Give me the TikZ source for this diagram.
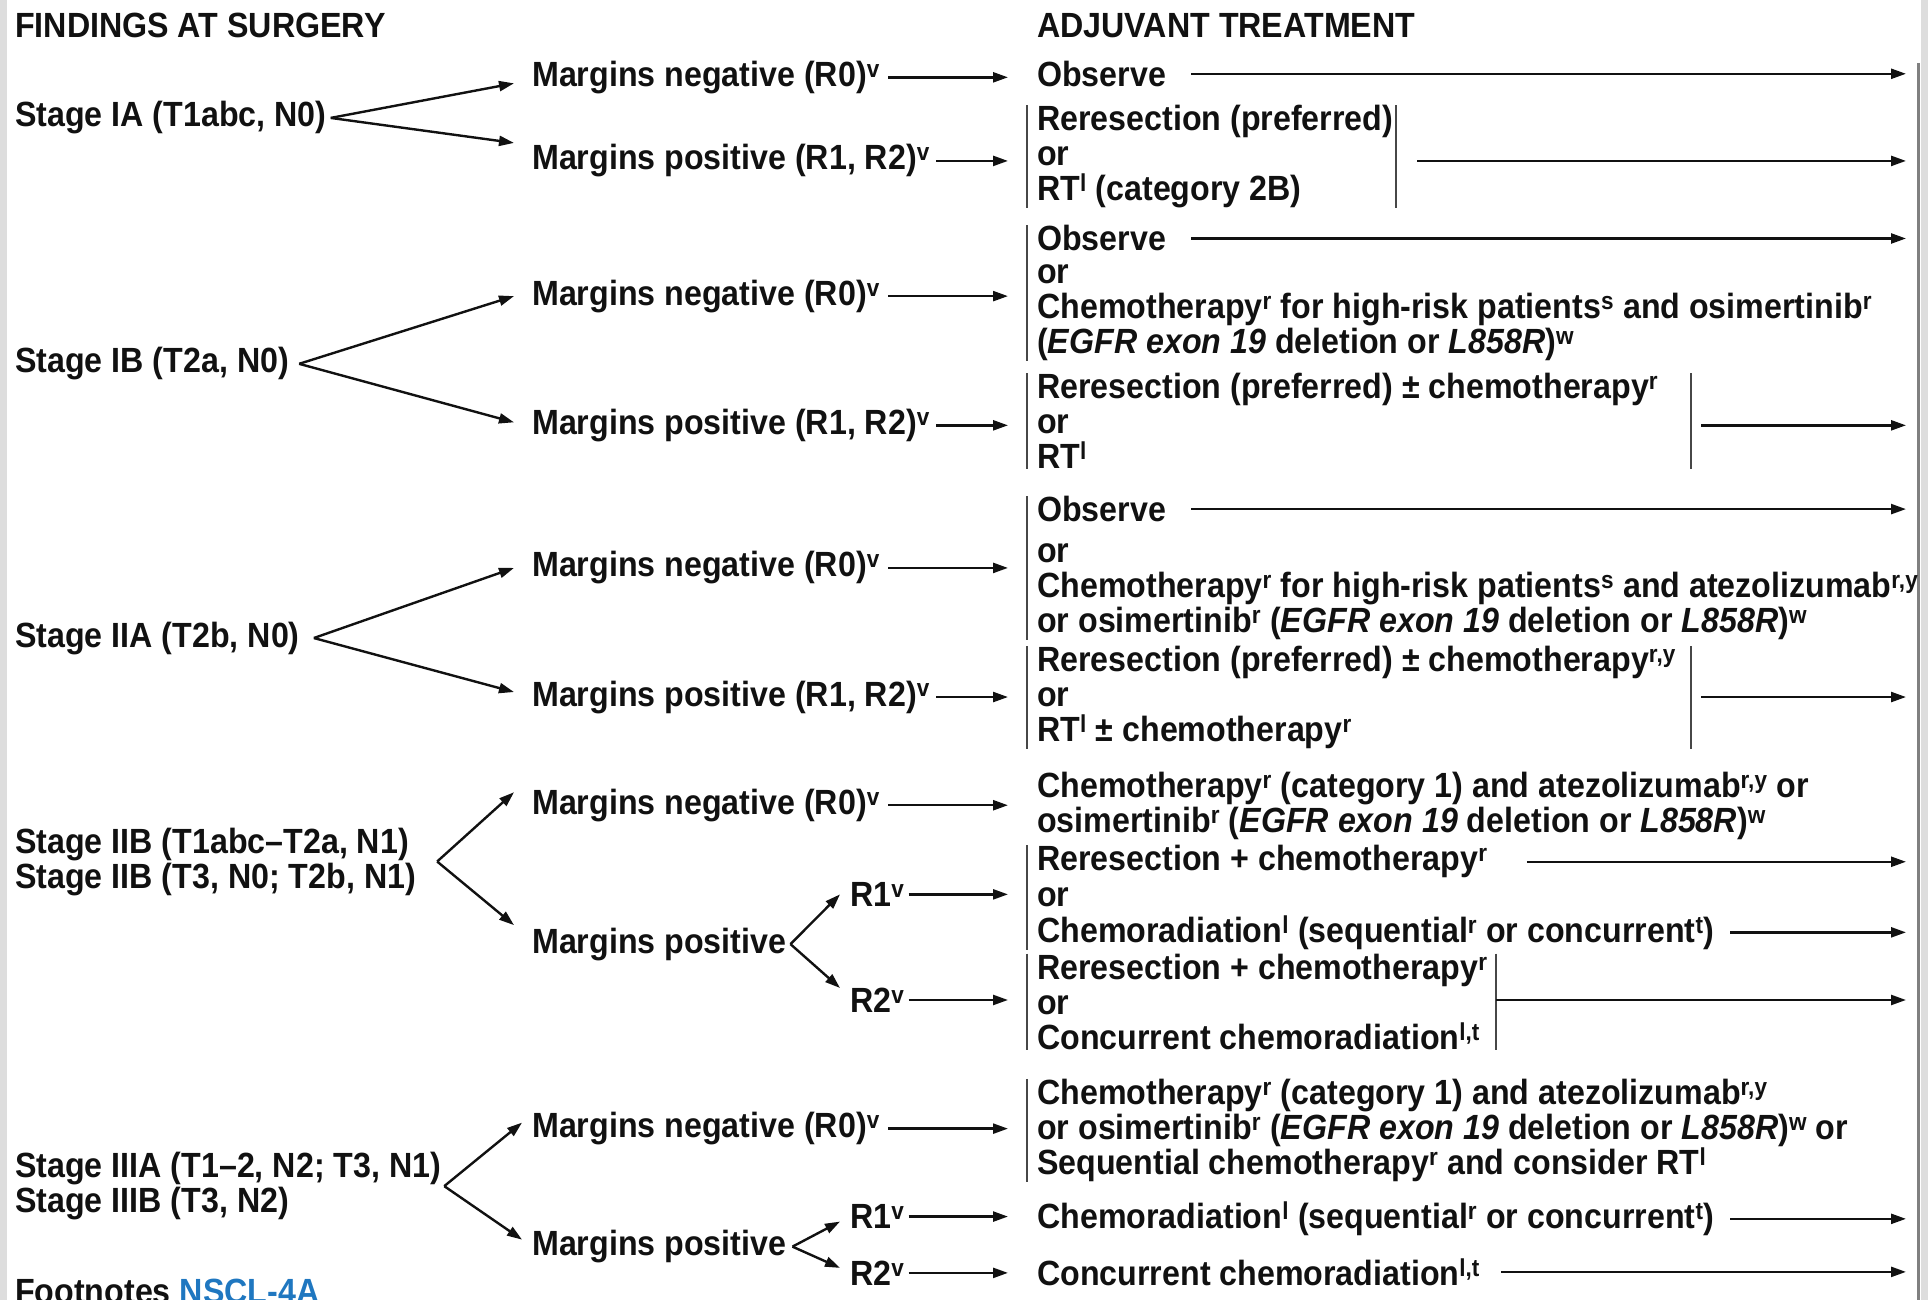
\documentclass[tikz,border=0pt]{standalone}
\usepackage{fontspec}
\setmainfont{Liberation Sans}[FakeStretch=0.92]
\usetikzlibrary{arrows.meta}
\definecolor{ink}{HTML}{111111}
\definecolor{barc}{HTML}{474747}
\definecolor{railc}{HTML}{808080}
\definecolor{edge}{HTML}{DDDDDD}
\definecolor{link}{HTML}{1F77C0}
\newcommand{\fnsup}[1]{\textsuperscript{#1}}
\begin{document}
\begin{tikzpicture}[x=1pt,y=-1pt,txt/.style={anchor=base west,inner sep=0pt,yshift=-12.5pt,text=ink,align=left,font=\fontsize{35}{35}\selectfont\bfseries},arr/.style={-{Triangle[length=15pt,width=10pt]},line width=2.4pt,draw=ink},bar/.style={line width=2.6pt,draw=barc}]
\useasboundingbox (0,0) rectangle (1928,1300);
\clip (0,0) rectangle (1928,1300);
\fill[edge] (0,0) rectangle (7,1300);
\fill[edge] (1921,0) rectangle (1928,1300);
\draw[line width=3pt,railc] (1918,63) -- (1918,1300);
\coordinate (tip) at (1008,0);
\coordinate (lb) at (1027,0);
\coordinate (rail) at (1906,0);
\coordinate (rbA) at (1396,0);
\coordinate (rbB) at (1691,0);
\coordinate (rbD) at (1496,0);
\node[txt] (hfind) at (15,24.6) {FINDINGS AT SURGERY};
\node[txt] (hadj) at (1037,24.6) {ADJUVANT TREATMENT};
\node[txt] (stA) at (15,114.4) {Stage IA (T1abc, N0)};
\node[txt] (mnegA) at (532,73.8) {Margins negative (R0)\fnsup{v}};
\node[txt] (mposA) at (532,157.4) {Margins positive (R1, R2)\fnsup{v}};
\node[txt] (obsA) at (1037,73.8) {Observe};
\node[txt] (boxA) at (1037,188.1) {Reresection (preferred)\\or\\RT\fnsup{l} (category 2B)};
\node[txt] (stB) at (15,360.3) {Stage IB (T2a, N0)};
\node[txt] (mnegB) at (532,292.6) {Margins negative (R0)\fnsup{v}};
\node[txt] (mposB) at (532,421.8) {Margins positive (R1, R2)\fnsup{v}};
\node[txt] (obsB) at (1037,238.5) {Observe};
\node[txt] (chemB) at (1037,340.6) {or\\Chemotherapy\fnsup{r} for high-risk patients\fnsup{s} and osimertinib\fnsup{r}\\(\textit{EGFR exon 19} deletion or \textit{L858R})\fnsup{w}};
\node[txt] (boxB) at (1037,456.2) {Reresection (preferred) ± chemotherapy\fnsup{r}\\or\\RT\fnsup{l}};
\node[txt] (stC) at (15,634.5) {Stage IIA (T2b, N0)};
\node[txt] (mnegC) at (532,564.4) {Margins negative (R0)\fnsup{v}};
\node[txt] (mposC) at (532,693.5) {Margins positive (R1, R2)\fnsup{v}};
\node[txt] (obsC) at (1037,509.1) {Observe};
\node[txt] (chemC) at (1037,619.7) {or\\Chemotherapy\fnsup{r} for high-risk patients\fnsup{s} and atezolizumab\fnsup{r,y}\\or osimertinib\fnsup{r} (\textit{EGFR exon 19} deletion or \textit{L858R})\fnsup{w}};
\node[txt] (boxC) at (1037,729.2) {Reresection (preferred) ± chemotherapy\fnsup{r,y}\\or\\RT\fnsup{l} ± chemotherapy\fnsup{r}};
\node[txt] (stD) at (15,875.5) {Stage IIB (T1abc--T2a, N1)\\Stage IIB (T3, N0; T2b, N1)};
\node[txt] (mnegD) at (532,801.7) {Margins negative (R0)\fnsup{v}};
\node[txt] (mposD) at (532,940.6) {Margins positive};
\node[txt] (r1D) at (850,893.9) {R1\fnsup{v}};
\node[txt] (r2D) at (850,999.7) {R2\fnsup{v}};
\node[txt] (negD) at (1037,820.1) {Chemotherapy\fnsup{r} (category 1) and atezolizumab\fnsup{r,y} or\\osimertinib\fnsup{r} (\textit{EGFR exon 19} deletion or \textit{L858R})\fnsup{w}};
\node[txt] (reD) at (1037,858.3) {Reresection + chemotherapy\fnsup{r}};
\node[txt] (orD) at (1037,893.9) {or};
\node[txt] (crD) at (1037,929.6) {Chemoradiation\fnsup{l} (sequential\fnsup{r} or concurrent\fnsup{t})};
\node[txt] (boxD) at (1037,1036.6) {Reresection + chemotherapy\fnsup{r}\\or\\Concurrent chemoradiation\fnsup{l,t}};
\node[txt] (stE) at (15,1200.1) {Stage IIIA (T1--2, N2; T3, N1)\\Stage IIIB (T3, N2)};
\node[txt] (mnegE) at (532,1125.1) {Margins negative (R0)\fnsup{v}};
\node[txt] (mposE) at (532,1243.1) {Margins positive};
\node[txt] (r1E) at (850,1216.1) {R1\fnsup{v}};
\node[txt] (r2E) at (850,1272.6) {R2\fnsup{v}};
\node[txt] (negE) at (1037,1162) {Chemotherapy\fnsup{r} (category 1) and atezolizumab\fnsup{r,y}\\or osimertinib\fnsup{r} (\textit{EGFR exon 19} deletion or \textit{L858R})\fnsup{w} or\\Sequential chemotherapy\fnsup{r} and consider RT\fnsup{l}};
\node[txt] (crE) at (1037,1216.1) {Chemoradiation\fnsup{l} (sequential\fnsup{r} or concurrent\fnsup{t})};
\node[txt] (ccE) at (1037,1272.6) {Concurrent chemoradiation\fnsup{l,t}};
\node[txt] (foot) at (15,1291) {Footnotes \textcolor{link}{NSCL-4A}};
\draw[bar] (boxA.north -| lb) -- (boxA.south -| lb);
\draw[bar] (boxA.north -| rbA) -- (boxA.south -| rbA);
\draw[bar] (obsB.north -| lb) -- (chemB.south -| lb);
\draw[bar] (boxB.north -| lb) -- (boxB.south -| lb);
\draw[bar] (boxB.north -| rbB) -- (boxB.south -| rbB);
\draw[bar] (obsC.north -| lb) -- (chemC.south -| lb);
\draw[bar] (boxC.north -| lb) -- (boxC.south -| lb);
\draw[bar] (boxC.north -| rbB) -- (boxC.south -| rbB);
\draw[bar] (reD.north -| lb) -- (crD.south -| lb);
\draw[bar] (boxD.north -| lb) -- (boxD.south -| lb);
\draw[bar] (boxD.north -| rbD) -- (boxD.south -| rbD);
\draw[bar] (negE.north -| lb) -- (negE.south -| lb);
\draw[arr] ([xshift=4pt]stA.east) -- ([xshift=-18pt,yshift=-6pt]mnegA.west);
\draw[arr] ([xshift=4pt]stA.east) -- ([xshift=-18pt,yshift=18pt]mposA.west);
\draw[arr] ([xshift=10pt]stB.east) -- ([xshift=-18pt]mnegB.west);
\draw[arr] ([xshift=10pt]stB.east) -- ([xshift=-18pt,yshift=3pt]mposB.west);
\draw[arr] ([xshift=14pt]stC.east) -- ([xshift=-18pt]mnegC.west);
\draw[arr] ([xshift=14pt]stC.east) -- ([xshift=-18pt,yshift=5pt]mposC.west);
\draw[arr] ([xshift=21pt]stD.east) -- ([xshift=-18pt,yshift=13pt]mnegD.west);
\draw[arr] ([xshift=21pt]stD.east) -- ([xshift=-18pt,yshift=19pt]mposD.west);
\draw[arr] ([xshift=3pt]stE.east) -- ([xshift=-10pt,yshift=6pt]mnegE.west);
\draw[arr] ([xshift=3pt]stE.east) -- ([xshift=-10pt,yshift=7pt]mposE.west);
\draw[arr] ([xshift=4pt]mposD.east) -- ([xshift=-10pt]r1D.west);
\draw[arr] ([xshift=4pt]mposD.east) -- ([xshift=-10pt,yshift=12pt]r2D.west);
\draw[arr] ([xshift=6pt]mposE.east) -- ([xshift=-10pt,yshift=-5pt]r1E.west);
\draw[arr] ([xshift=6pt]mposE.east) -- ([xshift=-10pt,yshift=5pt]r2E.west);
\draw[arr,shorten <=8pt] (mnegA.east) -- (mnegA -| tip);
\draw[arr,shorten <=6pt] (mposA.east) -- (mposA -| tip);
\draw[arr,shorten <=8pt] (mnegB.east) -- (mnegB -| tip);
\draw[arr,shorten <=6pt] (mposB.east) -- (mposB -| tip);
\draw[arr,shorten <=8pt] (mnegC.east) -- (mnegC -| tip);
\draw[arr,shorten <=6pt] (mposC.east) -- (mposC -| tip);
\draw[arr,shorten <=8pt] (mnegD.east) -- (mnegD -| tip);
\draw[arr,shorten <=4pt] (r1D.east) -- (r1D -| tip);
\draw[arr,shorten <=4pt] (r2D.east) -- (r2D -| tip);
\draw[arr,shorten <=8pt] (mnegE.east) -- (mnegE -| tip);
\draw[arr,shorten <=4pt] (r1E.east) -- (r1E -| tip);
\draw[arr,shorten <=4pt] (r2E.east) -- (r2E -| tip);
\draw[arr,shorten <=25pt] (obsA.east) -- (obsA -| rail);
\draw[arr,shorten <=21pt] (mposA -| rbA) -- (mposA -| rail);
\draw[arr,shorten <=25pt] (obsB.east) -- (obsB -| rail);
\draw[arr,shorten <=10pt] (mposB -| rbB) -- (mposB -| rail);
\draw[arr,shorten <=25pt] (obsC.east) -- (obsC -| rail);
\draw[arr,shorten <=10pt] (mposC -| rbB) -- (mposC -| rail);
\draw[arr,shorten <=39pt] (reD.east) -- (reD -| rail);
\draw[arr,shorten <=16pt] (crD.east) -- (crD -| rail);
\draw[arr] (r2D -| rbD) -- (r2D -| rail);
\draw[arr,shorten <=16pt] (crE.east) -- (crE -| rail);
\draw[arr,shorten <=21pt] (ccE.east) -- (ccE -| rail);
\end{tikzpicture}
\end{document}
